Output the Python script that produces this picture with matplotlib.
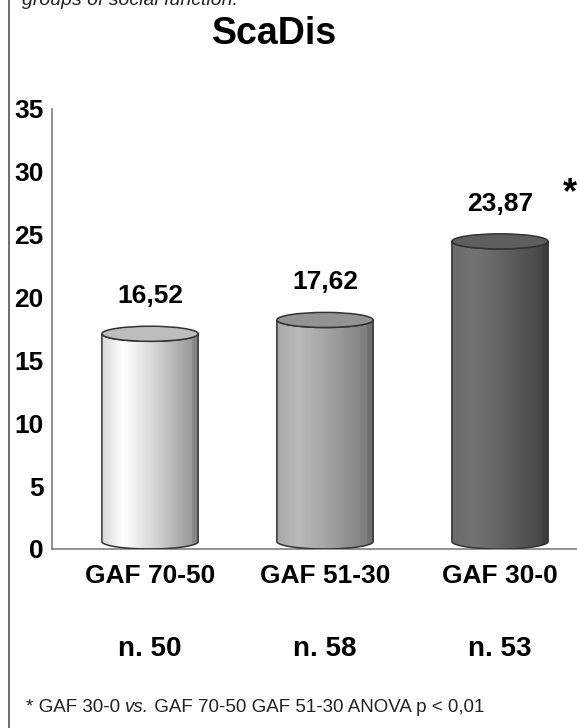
import numpy as np
import matplotlib
matplotlib.use("Agg")
import matplotlib.pyplot as plt
from matplotlib.patches import Ellipse, PathPatch
from matplotlib.path import Path
from matplotlib.lines import Line2D

# Data
categories = ["GAF 70-50", "GAF 51-30", "GAF 30-0"]
values = [16.52, 17.62, 23.87]
value_labels = ["16,52", "17,62", "23,87"]
group_sizes = ["n. 50", "n. 58", "n. 53"]
y_ticks = [0, 5, 10, 15, 20, 25, 30, 35]

# Shading for each cylinder: (left edge, highlight, right edge) grey levels and top cap
shades = [
    ((0.85, 1.00, 0.56), "#bdbdbd"),
    ((0.66, 0.73, 0.47), "#939393"),
    ((0.42, 0.45, 0.26), "#5e5e5e"),
]

W, H = 577, 728
fig = plt.figure(figsize=(W / 100, H / 100), dpi=100)
fig.patch.set_facecolor("white")

ax_left, ax_right = 52, 577
ax_top, ax_bottom = 109, 549
ax = fig.add_axes([ax_left / W, (H - ax_bottom) / H,
                   (ax_right - ax_left) / W, (ax_bottom - ax_top) / H])

xlim = (-0.56, 2.44)
ylim = (0, 35)

half_w = 0.275      # half bar width in category units
cap_h = 1.2         # ellipse height in value units
off = cap_h / 2

for i, (v, (levels, cap_col)) in enumerate(zip(values, shades)):
    cx = i
    y0 = off
    y1 = v + off
    # body outline: left side, lower front arc, right side, front arc of the cap
    t = np.linspace(np.pi, 2 * np.pi, 60)
    bottom_arc = np.column_stack([cx + half_w * np.cos(t), y0 + off * np.sin(t)])
    t2 = np.linspace(2 * np.pi, np.pi, 60)
    top_arc = np.column_stack([cx + half_w * np.cos(t2), y1 + off * np.sin(t2)])
    verts = np.vstack([[[cx - half_w, y1]], [[cx - half_w, y0]], bottom_arc,
                       [[cx + half_w, y0]], [[cx + half_w, y1]], top_arc])
    codes = [Path.MOVETO] + [Path.LINETO] * (len(verts) - 1)
    body_path = Path(verts, codes)
    body = PathPatch(body_path, facecolor="none", edgecolor="#333333", lw=1.1, zorder=3)
    ax.add_patch(body)

    # horizontal gradient across the cylinder
    xs = np.linspace(0, 1, 200)
    l, hmax, r = levels
    peak = 0.22
    frac = np.clip((xs - peak) / (1 - peak), 0, 1)
    g = np.where(xs < peak, l + (hmax - l) * (xs / peak), hmax + (r - hmax) * frac ** 1.1)
    g = np.where(xs > 0.93, g * 0.9, g)
    row = np.dstack([g, g, g])          # shape (1, n, 3)
    img = np.repeat(row, 2, axis=0)     # shape (2, n, 3)
    im = ax.imshow(img, extent=[cx - half_w, cx + half_w, 0, y1 + off],
                   aspect="auto", origin="lower", zorder=2, interpolation="bilinear")
    clip = PathPatch(body_path, transform=ax.transData, facecolor="none", edgecolor="none")
    ax.add_patch(clip)
    im.set_clip_path(clip)

    cap = Ellipse((cx, y1), width=2 * half_w, height=cap_h, facecolor=cap_col,
                  edgecolor="#333333", lw=1.1, zorder=4)
    ax.add_patch(cap)

    ax.text(cx, y1 + 3.0, value_labels[i], ha="center", va="center",
            fontsize=19, fontweight="bold", family="Liberation Sans", zorder=5)

ax.set_xlim(*xlim)
ax.set_ylim(*ylim)

for s in ["top", "right"]:
    ax.spines[s].set_visible(False)
for s in ["left", "bottom"]:
    ax.spines[s].set_color("#808080")
    ax.spines[s].set_linewidth(1.2)

ax.set_yticks(y_ticks)
ax.set_yticklabels([str(t) for t in y_ticks], fontsize=19, fontweight="bold",
                   family="Liberation Sans")
ax.set_xticks(range(len(categories)))
ax.set_xticklabels(categories, fontsize=19, fontweight="bold", family="Liberation Sans")
ax.tick_params(axis="y", length=0, pad=6)
ax.tick_params(axis="x", length=0, pad=11)

# asterisk marking the significant group
ax.text(2.40, 28.3, "*", ha="center", va="center", fontsize=26, fontweight="bold",
        family="Liberation Sans")

# group sizes below the category labels
for i, n in enumerate(group_sizes):
    fig.text((ax_left + (i - xlim[0]) / (xlim[1] - xlim[0]) * (ax_right - ax_left)) / W,
             1 - 649 / H, n, ha="center", va="center", fontsize=20,
             fontweight="bold", family="Liberation Sans")

# title
fig.text(275 / W, 1 - 34 / H, "ScaDis", ha="center", va="center", fontsize=27,
         fontweight="bold", family="Liberation Sans")

# caption line running off the top edge
fig.text(22 / W, 1 - 5 / H, "groups of social function.", ha="left", va="baseline",
         fontsize=14, style="italic", family="Liberation Sans", color="#222222")

# footnote, with the italic "vs."
fs = 13.5
y_fn = 1 - 707 / H
t1 = fig.text(26 / W, y_fn, "* GAF 30-0 ", ha="left", va="center", fontsize=fs,
              family="Liberation Sans", color="#222222")
fig.canvas.draw()
bb = t1.get_window_extent()
t2 = fig.text(bb.x1 / W, y_fn, "vs.", ha="left", va="center", fontsize=fs,
              style="italic", family="Liberation Sans", color="#222222")
fig.canvas.draw()
bb2 = t2.get_window_extent()
fig.text(bb2.x1 / W, y_fn, " GAF 70-50 GAF 51-30 ANOVA p < 0,01", ha="left",
         va="center", fontsize=fs, family="Liberation Sans", color="#222222")

# frame line along the left edge
fig.add_artist(Line2D([9 / W, 9 / W], [0, 1], transform=fig.transFigure,
                      color="#555555", lw=1.2))

fig.savefig("out.png", dpi=100, facecolor="white")
